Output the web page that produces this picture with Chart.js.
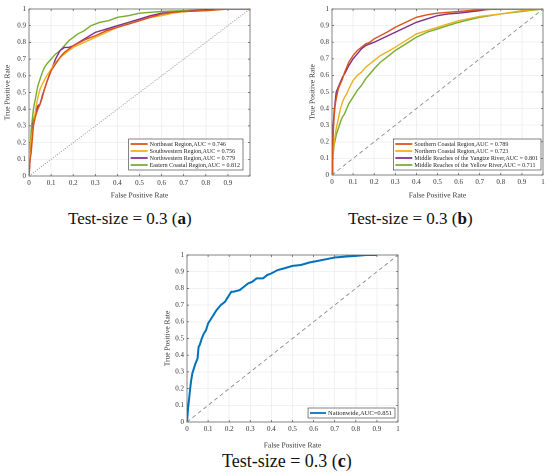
<!DOCTYPE html>
<html>
<head>
<meta charset="utf-8">
<script src="https://cdn.jsdelivr.net/npm/chart.js@4/dist/chart.umd.min.js"></script>
<style>
  html,body{margin:0;padding:0;background:#fff;}
  #wrap{position:relative;width:550px;height:475px;overflow:hidden;background:#fff;}
  canvas{position:absolute;}
  .cap{position:absolute;font-family:"Liberation Serif","Times New Roman",serif;color:#111;white-space:nowrap;line-height:20px;}
</style>
</head>
<body>
<div id="wrap">
  <canvas id="ca" width="275" height="200" style="left:0;top:0;width:275px;height:200px"></canvas>
  <canvas id="cb" width="275" height="200" style="left:275px;top:0;width:275px;height:200px"></canvas>
  <canvas id="cc" width="280" height="215" style="left:130px;top:235px;width:280px;height:215px"></canvas>
  <div class="cap" style="left:68px;top:209px;font-size:17px">Test-size = 0.3 (<b>a</b>)</div>
  <div class="cap" style="left:348px;top:209px;font-size:17px">Test-size = 0.3 (<b>b</b>)</div>
  <div class="cap" style="left:222px;top:451px;font-size:18px">Test-size = 0.3 (<b>c</b>)</div>
</div>
<script>
// ---------- tick values / labels ----------
const tickVals = [0,0.1,0.2,0.3,0.4,0.5,0.6,0.7,0.8,0.9,1];
const tickLabels = ['0','0.1','0.2','0.3','0.4','0.5','0.6','0.7','0.8','0.9','1'];
const tickLabelsXA = ['0','0.1','0.2','0.3','0.4','0.5','0.6','0.7','0.8','0.9',''];
const xTitle = 'False Positive Rate';
const yTitle = 'True Positive Rate';

// ---------- (a) ----------
const labelsA = ['Northeast Region,AUC = 0.746','Southwestern Region,AUC = 0.756','Northwestern Region,AUC = 0.779','Eastern Coastal Region,AUC = 0.812'];
const neX = [0,0.005,0.01,0.015,0.02,0.03,0.04,0.05,0.06,0.07,0.08,0.09,0.1,0.12,0.14,0.16,0.18,0.2,0.23,0.26,0.3,0.35,0.4,0.45,0.5,0.55,0.6,0.65,0.7,0.8,0.85,0.9,1];
const neY = [0,0.1,0.14,0.22,0.3,0.36,0.4,0.43,0.47,0.52,0.56,0.6,0.63,0.67,0.71,0.74,0.76,0.78,0.8,0.82,0.84,0.87,0.89,0.91,0.93,0.95,0.97,0.98,0.985,0.99,0.995,1,1];
const swX = [0,0.005,0.01,0.02,0.03,0.04,0.05,0.06,0.08,0.1,0.12,0.15,0.18,0.2,0.25,0.3,0.35,0.4,0.45,0.5,0.55,0.6,0.65,0.7,0.8,0.9,1];
const swY = [0,0.18,0.22,0.3,0.4,0.47,0.52,0.55,0.6,0.64,0.68,0.72,0.75,0.77,0.8,0.83,0.86,0.89,0.91,0.93,0.95,0.96,0.975,0.985,0.99,1,1];
const nwX = [0,0.005,0.01,0.02,0.03,0.04,0.05,0.06,0.08,0.1,0.12,0.14,0.16,0.18,0.2,0.25,0.3,0.35,0.4,0.45,0.5,0.55,0.6,0.7,0.8,0.85,1];
const nwY = [0,0.1,0.2,0.33,0.38,0.42,0.43,0.48,0.56,0.63,0.7,0.75,0.77,0.77,0.78,0.82,0.86,0.88,0.9,0.92,0.94,0.96,0.975,0.985,0.995,1,1];
const ecX = [0,0.005,0.01,0.02,0.03,0.04,0.05,0.06,0.07,0.08,0.1,0.12,0.14,0.16,0.18,0.2,0.22,0.25,0.28,0.32,0.36,0.4,0.45,0.5,0.55,0.6,0.7,0.8,0.9,1];
const ecY = [0,0.15,0.28,0.4,0.47,0.54,0.58,0.62,0.65,0.67,0.7,0.73,0.75,0.78,0.81,0.83,0.85,0.87,0.9,0.92,0.93,0.95,0.96,0.975,0.98,0.985,0.99,0.995,1,1];

// ---------- (b) ----------
const labelsB = ['Southern Coastal Region,AUC = 0.789','Northern Coastal Region,AUC = 0.723','Middle Reaches of the Yangtze River,AUC = 0.801','Middle Reaches of the Yellow River,AUC = 0.711'];
const scX = [0,0.003,0.006,0.01,0.015,0.02,0.03,0.04,0.05,0.06,0.07,0.08,0.1,0.12,0.14,0.16,0.18,0.2,0.23,0.26,0.3,0.35,0.4,0.45,0.5,0.55,0.6,0.7,0.8,0.9,1];
const scY = [0,0.15,0.25,0.35,0.42,0.46,0.52,0.55,0.58,0.62,0.65,0.68,0.72,0.75,0.77,0.79,0.8,0.82,0.84,0.86,0.89,0.92,0.95,0.965,0.975,0.98,0.985,0.995,1,1,1];
const ncX = [0,0.005,0.01,0.02,0.03,0.04,0.05,0.06,0.07,0.08,0.1,0.12,0.14,0.16,0.18,0.2,0.23,0.26,0.3,0.35,0.4,0.45,0.5,0.55,0.6,0.7,0.8,0.9,1];
const ncY = [0,0.15,0.2,0.28,0.34,0.4,0.44,0.47,0.49,0.52,0.57,0.6,0.62,0.65,0.67,0.69,0.72,0.74,0.77,0.81,0.85,0.87,0.89,0.91,0.93,0.955,0.97,0.99,1];
const ytX = [0,0.003,0.006,0.01,0.015,0.02,0.03,0.04,0.05,0.06,0.08,0.1,0.12,0.14,0.16,0.18,0.2,0.25,0.3,0.35,0.4,0.45,0.5,0.55,0.6,0.7,0.75,0.8,1];
const ytY = [0,0.2,0.3,0.38,0.44,0.5,0.53,0.56,0.59,0.61,0.66,0.7,0.73,0.76,0.78,0.79,0.8,0.83,0.86,0.89,0.92,0.94,0.96,0.97,0.975,0.99,1,1,1];
const yrX = [0,0.005,0.01,0.02,0.03,0.04,0.05,0.06,0.08,0.1,0.12,0.14,0.16,0.18,0.2,0.23,0.26,0.3,0.35,0.4,0.45,0.5,0.55,0.6,0.7,0.8,0.9,1];
const yrY = [0,0.12,0.18,0.24,0.28,0.32,0.35,0.37,0.43,0.47,0.51,0.54,0.58,0.61,0.64,0.68,0.71,0.75,0.79,0.83,0.86,0.88,0.9,0.92,0.95,0.97,0.985,1];

// ---------- (c) ----------
const labelsC = ['Nationwide,AUC=0.851'];
const natX = [0,0.005,0.01,0.015,0.02,0.025,0.03,0.04,0.05,0.055,0.06,0.07,0.08,0.09,0.1,0.11,0.12,0.14,0.16,0.18,0.2,0.21,0.22,0.25,0.27,0.29,0.31,0.33,0.36,0.38,0.4,0.43,0.46,0.5,0.54,0.58,0.62,0.66,0.7,0.75,0.8,0.85,0.9,1];
const natY = [0,0.08,0.14,0.2,0.25,0.29,0.31,0.35,0.38,0.45,0.46,0.5,0.53,0.55,0.59,0.61,0.63,0.67,0.7,0.72,0.76,0.78,0.78,0.79,0.81,0.83,0.84,0.86,0.86,0.88,0.89,0.91,0.92,0.935,0.94,0.955,0.965,0.975,0.985,0.99,0.995,1,1];

const diagX = [0,1];
const diagY = [0,1];

// ---------- helpers ----------
const FONT = '"Liberation Serif","Times New Roman",serif';
const pts = (xs, ys) => xs.map((x,i)=>({x:x, y:ys[i]}));
function curve(label, xs, ys, color, w){
  return {label:label, data:pts(xs,ys), borderColor:color, backgroundColor:color, borderWidth:w, pointRadius:0, tension:0, fill:false};
}
function diag(dash){
  return {label:'', data:pts(diagX,diagY), borderColor:'#8c8c8c', borderWidth:0.9, borderDash:dash, pointRadius:0, fill:false};
}

const frameBox = {
  id:'frameBox',
  beforeDatasetsDraw(chart){
    const a = chart.chartArea, c = chart.ctx;
    c.save();
    c.strokeStyle = '#555'; c.lineWidth = 0.7;
    c.strokeRect(a.left, a.top, a.right-a.left, a.bottom-a.top);
    const xs = chart.scales.x, ys = chart.scales.y;
    c.beginPath();
    tickVals.forEach(v=>{
      const px = xs.getPixelForValue(v), py = ys.getPixelForValue(v);
      c.moveTo(px, a.bottom); c.lineTo(px, a.bottom-2);
      c.moveTo(px, a.top); c.lineTo(px, a.top+2);
      c.moveTo(a.left, py); c.lineTo(a.left+2, py);
      c.moveTo(a.right, py); c.lineTo(a.right-2, py);
    });
    c.stroke();
    c.restore();
  }
};

const boxLegend = {
  id:'boxLegend',
  afterDatasetsDraw(chart, args, o){
    const a = chart.chartArea, c = chart.ctx;
    const items = chart.data.datasets.filter(d=>d.label);
    c.save();
    c.font = o.font + 'px ' + FONT;
    const tw = Math.max(...items.map(d=>c.measureText(d.label).width));
    const w = o.gap + o.lineLen + o.gap + tw + o.padR;
    const h = items.length*o.row + o.padV*2;
    const x = a.right - o.right - w, y = a.bottom - o.bottom - h;
    c.fillStyle = '#fff'; c.fillRect(x,y,w,h);
    c.strokeStyle = '#333'; c.lineWidth = 0.6; c.strokeRect(x,y,w,h);
    c.textBaseline = 'middle'; c.textAlign = 'left';
    items.forEach((d,i)=>{
      const cy = y + o.padV + o.row*(i+0.5);
      c.strokeStyle = d.borderColor; c.lineWidth = o.lw;
      c.beginPath(); c.moveTo(x+o.gap, cy); c.lineTo(x+o.gap+o.lineLen, cy); c.stroke();
      c.fillStyle = '#222';
      c.fillText(d.label, x + o.gap*2 + o.lineLen, cy+0.5);
    });
    c.restore();
  }
};

function scales(xLabels, yw, xh){
  const tickFont = {family:FONT, size:7};
  const titleFont = {family:FONT, size:7.5};
  const grid = {color:'#e6e6e6', lineWidth:0.6, drawTicks:false};
  return {
    x:{type:'linear', min:0, max:1,
       afterBuildTicks: s => { s.ticks = tickVals.map(v=>({value:v})); },
       afterFit: s => { s.height = xh; },
       ticks:{font:tickFont, color:'#333', padding:3, maxRotation:0, autoSkip:false,
              callback:(v,i)=>xLabels[i]},
       grid:grid, border:{display:false},
       title:{display:true, text:xTitle, font:titleFont, color:'#333', padding:{top:0,bottom:0}}},
    y:{type:'linear', min:0, max:1,
       afterBuildTicks: s => { s.ticks = tickVals.map(v=>({value:v})); },
       afterFit: s => { s.width = yw; },
       ticks:{font:tickFont, color:'#333', padding:3, autoSkip:false,
              callback:(v,i)=>tickLabels[i]},
       grid:grid, border:{display:false},
       title:{display:true, text:yTitle, font:titleFont, color:'#333', padding:{top:0,bottom:2}}}
  };
}

function make(id, datasets, pad, yw, xh, xLabels, leg){
  new Chart(document.getElementById(id), {
    type:'line',
    data:{datasets:datasets},
    options:{
      responsive:false, animation:false, devicePixelRatio:2,
      layout:{padding:pad},
      scales:scales(xLabels, yw, xh),
      plugins:{legend:{display:false}, tooltip:{enabled:false}, boxLegend:leg}
    },
    plugins:[frameBox, boxLegend]
  });
}

const RED='#D95319', YEL='#EDB120', PUR='#7E2F8E', GRN='#77AC30', BLU='#0072BD';

make('ca', [
  diag([1,1.5]),
  curve(labelsA[0], neX, neY, RED, 1.4),
  curve(labelsA[1], swX, swY, YEL, 1.4),
  curve(labelsA[2], nwX, nwY, PUR, 1.4),
  curve(labelsA[3], ecX, ecY, GRN, 1.4)
], {left:3, top:9, right:25, bottom:0}, 26, 24, tickLabelsXA,
  {font:6, row:7, padV:1.5, gap:2, lineLen:17, padR:3, right:7, bottom:6, lw:1.8});

make('cb', [
  diag([4,3]),
  curve(labelsB[0], scX, scY, RED, 1.4),
  curve(labelsB[1], ncX, ncY, YEL, 1.4),
  curve(labelsB[2], ytX, ytY, PUR, 1.4),
  curve(labelsB[3], yrX, yrY, GRN, 1.4)
], {left:33, top:9, right:7, bottom:0}, 24, 25, tickLabels,
  {font:6, row:7, padV:1.5, gap:2, lineLen:17, padR:3, right:2, bottom:5, lw:1.8});

make('cc', [
  diag([4,3]),
  curve(labelsC[0], natX, natY, BLU, 2)
], {left:33, top:20, right:12, bottom:0}, 24, 28, tickLabels,
  {font:6.5, row:9, padV:0.5, gap:2, lineLen:16, padR:3, right:3, bottom:4, lw:1.8});
</script>
</body>
</html>
